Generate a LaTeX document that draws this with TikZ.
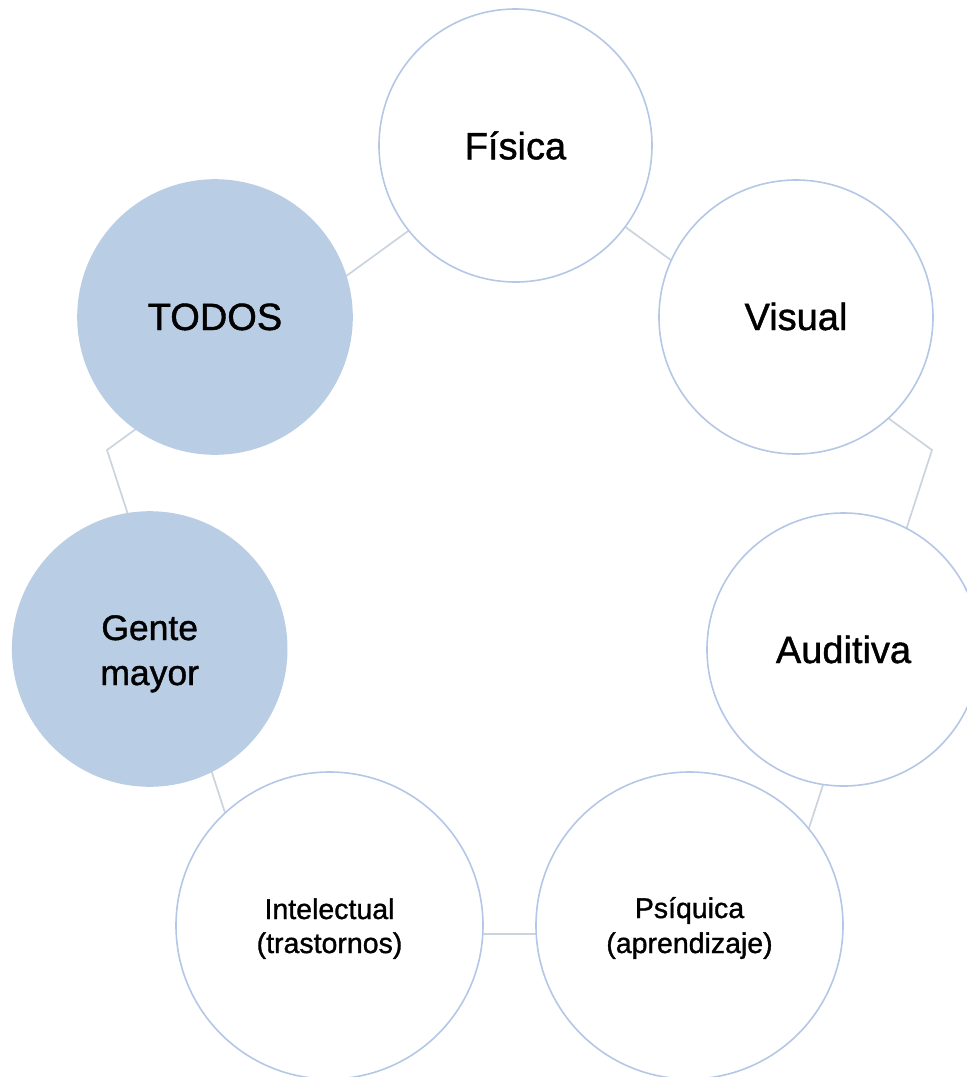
\documentclass[tikz,border=0pt]{standalone}
\usepackage{fontspec}
\setmainfont{Liberation Sans}
\newfontfamily\labelfont{Liberation Sans}[FakeBold=1.1]
\definecolor{ringline}{HTML}{CBD4DE}
\definecolor{circleedge}{HTML}{B4C7E7}
\definecolor{circlefill}{HTML}{B9CDE4}

\begin{document}
\begin{tikzpicture}[x=1pt,y=-1pt,
  bubble/.style={circle, draw=circleedge, line width=1.6pt, fill=white, inner sep=0pt},
  filled/.style={fill=circlefill, draw=circlefill},
  ring/.style={draw=ringline, line width=1.7pt, line join=miter},
  bigtext/.style={anchor=base, inner sep=0pt, font=\labelfont\fontsize{38}{46}\selectfont},
  midtext/.style={anchor=base, inner sep=0pt, font=\labelfont\fontsize{35.5}{44}\selectfont},
  smalltext/.style={anchor=base, inner sep=0pt, font=\labelfont\fontsize{28.5}{35}\selectfont}]
\useasboundingbox (0,0) rectangle (967,1077);
\clip (0,0) rectangle (967,1077);

% corners of the pentagon ring behind the circles
\coordinate (p-top) at (519.5,150);
\coordinate (p-right) at (932,450);
\coordinate (p-bright) at (774.5,934);
\coordinate (p-bleft) at (264.5,934);
\coordinate (p-left) at (107,450);
\draw[ring] (p-top) -- (p-right) -- (p-bright) -- (p-bleft) -- (p-left) -- cycle;

% circles
\node[bubble, minimum size=273pt] (fisica) at (515.5,145.5) {};
\node[bubble, minimum size=274pt] (visual) at (796,317) {};
\node[bubble, minimum size=273pt] (auditiva) at (843.5,649.5) {};
\node[bubble, minimum size=307pt] (psiquica) at (689.5,925.5) {};
\node[bubble, minimum size=307pt] (intelectual) at (329.5,925.5) {};
\node[bubble, filled, minimum size=274pt] (gente) at (149.7,649) {};
\node[bubble, filled, minimum size=274pt] (todos) at (215,317) {};

% labels
\node[bigtext] (fisica-t) at ([yshift=-13.8pt]fisica.center) {Física};
\node[bigtext] (visual-t) at ([yshift=-13pt]visual.center) {Visual};
\node[bigtext] (auditiva-t) at ([yshift=-13.5pt]auditiva.center) {Auditiva};
\node[bigtext] (todos-t) at ([yshift=-13pt]todos.center) {TODOS};
\node[midtext] (gente-t1) at ([yshift=9pt]gente.center) {Gente};
\node[midtext] (gente-t2) at ([yshift=-36pt]gente.center) {mayor};
\node[smalltext] (psiquica-t1) at ([yshift=7.5pt]psiquica.center) {Psíquica};
\node[smalltext] (psiquica-t2) at ([yshift=-27.5pt]psiquica.center) {(aprendizaje)};
\node[smalltext] (intelectual-t1) at ([yshift=6.5pt]intelectual.center) {Intelectual};
\node[smalltext] (intelectual-t2) at ([yshift=-27.5pt]intelectual.center) {(trastornos)};
\end{tikzpicture}
\end{document}
